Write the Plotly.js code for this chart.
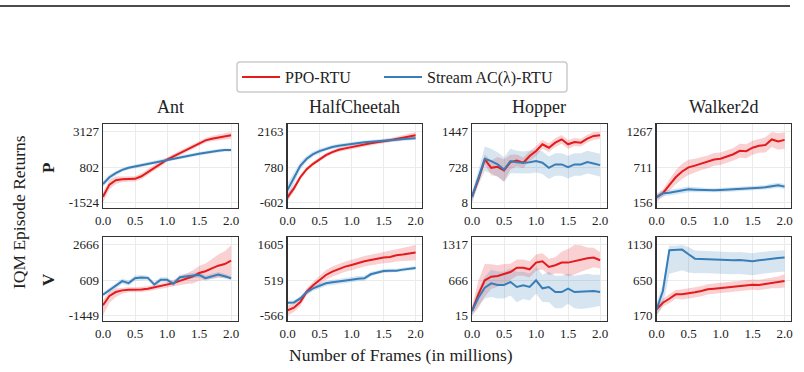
<!DOCTYPE html>
<html><head><meta charset="utf-8">
<script src="https://cdn.plot.ly/plotly-3.0.1.min.js"></script>
<style>html,body{margin:0;padding:0;background:#fff;}#chart{width:804px;height:372px;}</style>
</head><body><div id="chart"></div>
<script>
// ---------- data ----------
const frames = [0,0.1,0.2,0.3,0.4,0.5,0.6,0.7,0.8,0.9,1.0,1.1,1.2,1.3,1.4,1.5,1.6,1.7,1.8,1.9,2.0];
const envs = ['Ant','HalfCheetah','Hopper','Walker2d'];
const rowLabels = ['P','V'];
const seriesNames = ['PPO-RTU','Stream AC(λ)-RTU'];
const xTickVals = [0,0.5,1.0,1.5,2.0];
const xTickText = ['0.0','0.5','1.0','1.5','2.0'];

// P row
const antP_ppo    = [-1150,-350,-60,10,20,30,200,480,760,1020,1300,1520,1730,1950,2170,2400,2570,2680,2760,2830,2900];
const antP_ppo_up = [300,300,250,200,180,170,200,220,200,180,160,150,150,150,150,150,160,170,180,200,227];
const antP_ppo_dn = [374,300,250,200,180,170,200,220,200,180,160,150,150,150,150,150,160,170,180,200,227];
const antP_ac     = [-306,137,403,624,757,846,934,1023,1111,1200,1289,1377,1466,1532,1599,1687,1754,1842,1887,1931,1931];
const antP_ac_up  = [200,180,150,130,120,110,110,110,110,110,110,110,110,110,110,110,110,110,110,110,110];
const antP_ac_dn  = [200,180,150,130,120,110,110,110,110,110,110,110,110,110,110,110,110,110,110,110,110];
const antP_ticks  = [-1524,802,3127];

const hcP_ppo    = [-405,-50,385,701,912,1096,1254,1373,1465,1518,1570,1636,1676,1715,1755,1781,1834,1886,1939,2005,2031];
const hcP_ppo_up = [150,120,100,90,80,80,80,80,80,80,80,80,80,80,80,80,80,90,100,120,132];
const hcP_ppo_dn = [150,120,100,90,80,80,80,80,80,80,80,80,80,80,80,80,80,90,100,120,130];
const hcP_ac     = [-115,385,833,1109,1294,1412,1505,1570,1623,1663,1702,1728,1755,1781,1794,1807,1834,1860,1886,1913,1913];
const hcP_ac_up  = [250,200,150,120,100,90,80,80,80,80,70,70,70,70,70,70,70,70,70,70,70];
const hcP_ac_dn  = [487,250,150,120,100,90,80,80,80,80,70,70,70,70,70,70,70,70,70,70,70];
const hcP_ticks  = [-602,780,2163];

const hopP_ppo    = [118,474,885,714,735,659,830,865,817,954,1057,1194,1125,1228,1296,1194,1241,1228,1310,1365,1378];
const hopP_ppo_up = [110,100,100,150,200,230,150,120,110,100,100,90,90,90,90,90,80,80,80,80,69];
const hopP_ppo_dn = [110,100,100,150,200,230,150,120,110,100,100,90,90,90,90,90,80,80,80,80,70];
const hopP_ac     = [118,509,899,851,783,680,851,830,817,830,851,817,714,783,783,728,783,783,830,803,769];
const hopP_ac_up  = [110,150,250,250,250,250,250,230,230,230,230,230,230,230,230,230,230,230,230,230,230];
const hopP_ac_dn  = [110,150,250,250,250,250,250,230,230,230,230,230,230,230,230,230,230,230,230,230,230];
const hopP_ticks  = [8,728,1447];

const walP_ppo    = [237,302,427,552,644,709,736,768,795,833,844,877,915,969,963,1018,1050,1061,1148,1115,1142];
const walP_ppo_up = [40,60,90,110,120,120,110,100,100,100,100,100,100,110,110,110,110,120,119,130,120];
const walP_ppo_dn = [40,60,90,110,120,120,110,100,100,100,100,100,100,110,110,110,110,120,120,130,140];
const walP_ac     = [237,302,308,324,346,362,357,351,346,346,351,357,362,367,373,378,384,394,411,427,405];
const walP_ac_up  = [60,50,45,45,45,45,40,35,35,35,35,35,35,35,35,35,35,35,40,40,40];
const walP_ac_dn  = [81,50,45,45,45,45,40,35,35,35,35,35,35,35,35,35,35,35,40,40,40];
const walP_ticks  = [156,711,1267];

// V row
const antV_ppo    = [-853,-315,-84,12,51,51,70,108,185,262,339,435,570,685,820,1031,1128,1301,1454,1551,1743];
const antV_ppo_up = [300,250,200,150,150,150,150,150,150,150,150,200,250,300,350,400,450,550,650,750,900];
const antV_ppo_dn = [596,400,300,200,150,150,150,150,150,150,150,200,250,300,400,450,500,600,700,800,900];
const antV_ac     = [-238,12,262,551,435,724,762,743,358,628,628,397,782,839,878,916,724,820,935,839,724];
const antV_ac_up  = [120,150,150,150,150,150,150,120,150,150,150,150,150,150,150,150,150,150,150,150,120];
const antV_ac_dn  = [120,150,150,150,150,150,150,120,150,150,150,150,150,150,150,150,150,150,150,150,120];
const antV_ticks  = [-1449,609,2666];

const hcV_ppo    = [-412,-329,-155,164,360,514,679,782,864,936,988,1049,1101,1142,1183,1214,1235,1286,1307,1337,1368];
const hcV_ppo_up = [154,130,120,110,110,130,150,160,160,160,160,160,160,160,160,170,180,190,200,220,237];
const hcV_ppo_dn = [154,130,120,110,110,130,150,160,160,160,160,160,160,160,160,170,180,190,200,220,237];
const hcV_ac     = [-175,-165,-41,154,267,350,422,453,473,504,535,566,576,700,761,802,813,813,844,874,895];
const hcV_ac_up  = [60,60,70,80,80,80,80,80,80,80,80,80,80,70,60,60,60,60,60,60,60];
const hcV_ac_dn  = [60,60,70,80,80,80,80,80,80,80,80,80,80,70,60,60,60,60,60,60,60];
const hcV_ticks  = [-566,519,1605];

const hopV_ppo    = [95,404,663,731,743,786,817,897,897,867,990,1015,910,941,990,990,1021,1052,1070,1083,1033];
const hopV_ppo_up = [80,250,300,230,200,180,150,150,150,150,150,150,150,150,200,250,296,260,200,180,150];
const hopV_ppo_dn = [80,250,300,230,200,180,150,150,150,150,150,150,150,150,200,250,250,230,200,180,150];
const hopV_ac     = [95,342,527,607,577,577,632,540,570,540,663,515,540,447,447,509,447,453,466,466,447];
const hopV_ac_up  = [80,150,200,250,250,250,250,280,250,250,250,250,280,300,300,280,300,320,320,300,320];
const hopV_ac_dn  = [80,150,200,250,250,250,250,280,250,250,250,250,280,300,300,280,300,320,320,300,260];
const hopV_ticks  = [15,666,1317];

const walV_ppo    = [252,343,397,457,457,466,484,502,525,534,543,552,561,566,579,589,584,598,611,620,639];
const walV_ppo_up = [40,50,60,60,70,70,70,70,70,70,70,70,70,70,70,70,70,70,70,80,90];
const walV_ppo_dn = [82,50,60,60,70,70,70,70,70,70,70,70,70,70,70,70,70,70,70,80,90];
const walV_ac     = [252,502,1057,1057,1066,1003,943,939,934,930,925,921,921,925,916,907,921,934,948,952,957];
const walV_ac_up  = [82,100,60,60,64,100,110,110,110,110,110,110,110,110,110,110,110,110,100,100,100];
const walV_ac_dn  = [82,200,320,300,280,250,200,190,190,190,190,190,190,190,190,190,190,190,190,190,190];
const walV_ticks  = [170,650,1130];

// ---------- panels ----------
const panels = [
  {row:0,col:0,ppo:[antP_ppo,antP_ppo_up,antP_ppo_dn],ac:[antP_ac,antP_ac_up,antP_ac_dn],ticks:antP_ticks},
  {row:0,col:1,ppo:[hcP_ppo,hcP_ppo_up,hcP_ppo_dn],ac:[hcP_ac,hcP_ac_up,hcP_ac_dn],ticks:hcP_ticks},
  {row:0,col:2,ppo:[hopP_ppo,hopP_ppo_up,hopP_ppo_dn],ac:[hopP_ac,hopP_ac_up,hopP_ac_dn],ticks:hopP_ticks},
  {row:0,col:3,ppo:[walP_ppo,walP_ppo_up,walP_ppo_dn],ac:[walP_ac,walP_ac_up,walP_ac_dn],ticks:walP_ticks},
  {row:1,col:0,ppo:[antV_ppo,antV_ppo_up,antV_ppo_dn],ac:[antV_ac,antV_ac_up,antV_ac_dn],ticks:antV_ticks},
  {row:1,col:1,ppo:[hcV_ppo,hcV_ppo_up,hcV_ppo_dn],ac:[hcV_ac,hcV_ac_up,hcV_ac_dn],ticks:hcV_ticks},
  {row:1,col:2,ppo:[hopV_ppo,hopV_ppo_up,hopV_ppo_dn],ac:[hopV_ac,hopV_ac_up,hopV_ac_dn],ticks:hopV_ticks},
  {row:1,col:3,ppo:[walV_ppo,walV_ppo_up,walV_ppo_dn],ac:[walV_ac,walV_ac_up,walV_ac_dn],ticks:walV_ticks},
];

// ---------- layout geometry (pixels) ----------
const W = 804, H = 372;
const colLeft = [103, 287.5, 472, 656.5];
const plotW = 134.5;
const rowTop = [124.3, 237.3];
const plotH = 83.4;
const FONT = 'Liberation Serif';
const RED = '#e41a1c', BLUE = '#377eb8';
const RED_F = 'rgba(228,26,28,0.2)', BLUE_F = 'rgba(55,126,184,0.2)';

const legendCommon = {
  orientation: 'h', xanchor: 'left', y: 1 - 77/H, yanchor: 'middle',
  bordercolor: 'rgba(0,0,0,0)', borderwidth: 0, bgcolor: 'rgba(0,0,0,0)',
  font: {family: FONT, size: 16, color: '#222'}, itemwidth: 38
};

const traces = [];
const layout = {
  width: W, height: H,
  margin: {l:0, r:0, t:0, b:0},
  paper_bgcolor: '#fff', plot_bgcolor: '#fff',
  font: {family: FONT, color: '#222', size: 13},
  showlegend: true,
  legend: Object.assign({x: 237 / W}, legendCommon),
  legend2: Object.assign({x: 379 / W}, legendCommon),
  annotations: [], shapes: []
};

panels.forEach((p, i) => {
  const k = i + 1;
  const xa = 'x' + (k === 1 ? '' : k), ya = 'y' + (k === 1 ? '' : k);
  const xk = 'xaxis' + (k === 1 ? '' : k), yk = 'yaxis' + (k === 1 ? '' : k);
  const series = [[p.ppo, RED, RED_F, seriesNames[0], 'legend'], [p.ac, BLUE, BLUE_F, seriesNames[1], 'legend2']];
  series.forEach(([s, c, f]) => {
    const lo = s[0].map((v, j) => v - s[2][j]);
    const hi = s[0].map((v, j) => v + s[1][j]);
    traces.push({x: frames, y: lo, xaxis: xa, yaxis: ya, mode: 'lines', line: {width: 0, color: f}, showlegend: false, hoverinfo: 'skip'});
    traces.push({x: frames, y: hi, xaxis: xa, yaxis: ya, mode: 'lines', line: {width: 0, color: f}, fill: 'tonexty', fillcolor: f, showlegend: false, hoverinfo: 'skip'});
  });
  series.forEach(([s, c, f, name, lg]) => {
    traces.push({x: frames, y: s[0], xaxis: xa, yaxis: ya, mode: 'lines', line: {width: 2, color: c}, name: name,
      legend: lg, showlegend: i === 0});
  });
  const t = p.ticks, S = t[2] - t[0];
  const left = colLeft[p.col], top = rowTop[p.row];
  layout[xk] = {
    domain: [left / W, (left + plotW) / W], anchor: ya, range: [0, 2.1],
    tickvals: xTickVals, ticktext: xTickText, ticks: '', showgrid: true, gridcolor: '#ebebeb', gridwidth: 1,
    showline: true, mirror: true, linecolor: '#333', linewidth: 1.3, zeroline: false,
    tickfont: {family: FONT, size: 13, color: '#222'}, fixedrange: true
  };
  layout[yk] = {
    domain: [1 - (top + plotH) / H, 1 - top / H], anchor: xa,
    range: [t[0] - 0.075 * S, t[2] + 0.108 * S],
    tickvals: t, ticktext: t.map(String), ticks: '', showgrid: true, gridcolor: '#ebebeb', gridwidth: 1,
    showline: true, mirror: true, linecolor: '#333', linewidth: 1.3, zeroline: false,
    tickfont: {family: FONT, size: 13, color: '#222'}, fixedrange: true
  };
  if (p.row === 0) {
    layout.annotations.push({text: envs[p.col], xref: 'paper', yref: 'paper', x: (left + plotW / 2) / W, y: 1 - 107 / H,
      xanchor: 'center', yanchor: 'middle', showarrow: false, font: {family: FONT, size: 18, color: '#222'}});
  }
});

layout.annotations.push({text: '<b>' + rowLabels[0] + '</b>', xref: 'paper', yref: 'paper', x: 48 / W, y: 1 - 168 / H,
  xanchor: 'center', yanchor: 'middle', textangle: -90, showarrow: false, font: {family: FONT, size: 17, color: '#222'}});
layout.annotations.push({text: '<b>' + rowLabels[1] + '</b>', xref: 'paper', yref: 'paper', x: 48 / W, y: 1 - 280 / H,
  xanchor: 'center', yanchor: 'middle', textangle: -90, showarrow: false, font: {family: FONT, size: 17, color: '#222'}});
layout.annotations.push({text: 'IQM Episode Returns', xref: 'paper', yref: 'paper', x: 19 / W, y: 1 - 212 / H,
  xanchor: 'center', yanchor: 'middle', textangle: -90, showarrow: false, font: {family: FONT, size: 17.5, color: '#222'}});
layout.annotations.push({text: 'Number of Frames (in millions)', xref: 'paper', yref: 'paper', x: 401 / W, y: 1 - 355 / H,
  xanchor: 'center', yanchor: 'middle', showarrow: false, font: {family: FONT, size: 17.5, color: '#222'}});

// top rule
layout.shapes.push({type: 'line', xref: 'paper', yref: 'paper', x0: 0, x1: 790 / W, y0: 1 - 6 / H, y1: 1 - 6 / H,
  line: {color: '#111', width: 1.5}});

// legend frame (rounded rectangle)
(function () {
  const x0 = 237, x1 = 567, y0 = 62, y1 = 92, r = 3;
  const X = v => v / W, Y = v => 1 - v / H;
  const path = `M ${X(x0 + r)} ${Y(y0)} L ${X(x1 - r)} ${Y(y0)} Q ${X(x1)} ${Y(y0)} ${X(x1)} ${Y(y0 + r)} ` +
    `L ${X(x1)} ${Y(y1 - r)} Q ${X(x1)} ${Y(y1)} ${X(x1 - r)} ${Y(y1)} L ${X(x0 + r)} ${Y(y1)} ` +
    `Q ${X(x0)} ${Y(y1)} ${X(x0)} ${Y(y1 - r)} L ${X(x0)} ${Y(y0 + r)} Q ${X(x0)} ${Y(y0)} ${X(x0 + r)} ${Y(y0)} Z`;
  layout.shapes.push({type: 'path', xref: 'paper', yref: 'paper', path: path, line: {color: '#cccccc', width: 1.5}, layer: 'above'});
})();

Plotly.newPlot('chart', traces, layout, {staticPlot: true, displayModeBar: false});
</script></body></html>
